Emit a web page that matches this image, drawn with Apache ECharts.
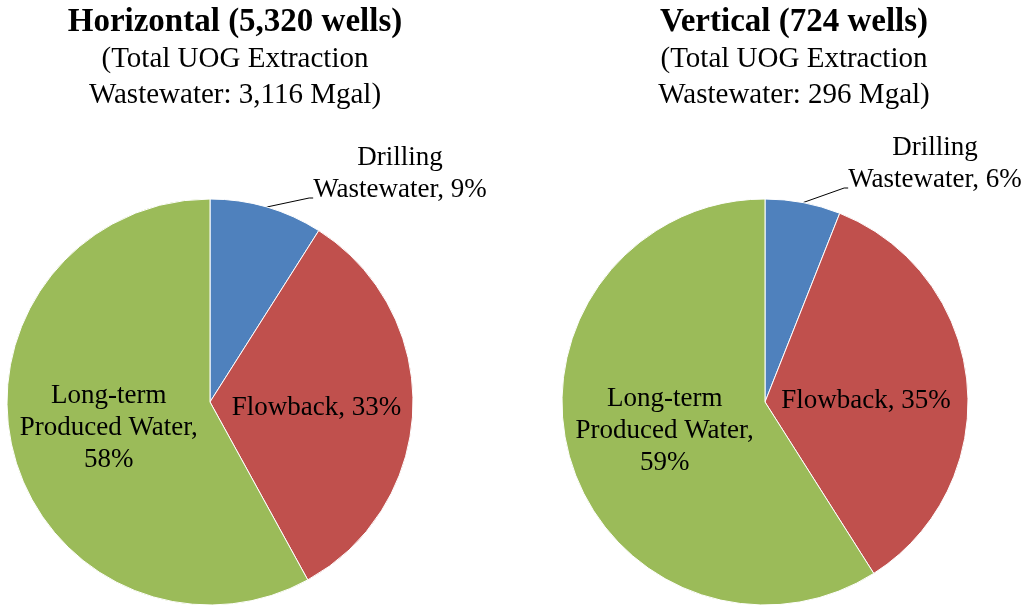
<!DOCTYPE html>
<html>
<head>
<meta charset="utf-8">
<script src="https://cdn.jsdelivr.net/npm/echarts@6/dist/echarts.min.js"></script>
<style>
  html, body { margin: 0; padding: 0; background: #fff; }
  #main { width: 1024px; height: 611px; }
</style>
</head>
<body>
<div id="main"></div>
<script>
// data
var categories = ['Drilling Wastewater', 'Flowback', 'Long-term Produced Water'];
var horizontalShare = [9, 33, 58];
var verticalShare = [6, 35, 59];
var labelTemplates = ['Drilling\nWastewater, {v}%\n{gap| }', 'Flowback, {v}%', 'Long-term\nProduced Water,\n{v}%'];
var sliceColors = ['#4F81BD', '#C0504D', '#9BBB59'];
var titles = ['Horizontal (5,320 wells)', 'Vertical (724 wells)'];
var subtitles = ['(Total UOG Extraction\nWastewater: 3,116 Mgal)', '(Total UOG Extraction\nWastewater: 296 Mgal)'];

var FONT = '"Liberation Serif", "Times New Roman", serif';

function buildData(values, flowOffset){
    return values.map(function(v, i){
        var item = {
            name: categories[i],
            value: v,
            itemStyle: { color: sliceColors[i] }
        };
        if (i == 0) {
            // blank bottom line so the leader meets the label low on its left side
            item.label = {
                position: 'outside',
                rich: { gap: { fontSize: 10, lineHeight: 48 } }
            };
            item.labelLine = { show: true };
        } else {
            item.label = { position: 'inner' };
            if (i == 1) item.label.offset = flowOffset;
            item.labelLine = { show: false };
        }
        return item;
    });
}

function pieSeries(values, cx, drillLabelPos, flowOffset){
    return {
        type: 'pie',
        center: [cx, 402],
        radius: 203,
        startAngle: 90,
        clockwise: true,
        animation: false,
        silent: true,
        itemStyle: { borderColor: '#fff', borderWidth: 1 },
        label: {
            color: '#000',
            fontFamily: FONT,
            fontSize: 27,
            lineHeight: 32,
            align: 'center',
            formatter: function(p){
                return labelTemplates[p.dataIndex].replace('{v}', p.value);
            }
        },
        labelLine: {
            length: 4,
            length2: 4,
            lineStyle: { color: '#000', width: 1 }
        },
        labelLayout: function(p){
            if (p.dataIndex == 0) {
                return { x: drillLabelPos[0], y: drillLabelPos[1], align: 'center', verticalAlign: 'middle' };
            }
            return {};
        },
        data: buildData(values, flowOffset)
    };
}

var chart = echarts.init(document.getElementById('main'), null, { renderer: 'canvas' });

chart.setOption({
    backgroundColor: '#fff',
    title: [
        {
            text: titles[0], subtext: subtitles[0],
            left: 230, top: 1, textAlign: 'center', itemGap: 2,
            textStyle: { fontFamily: FONT, fontSize: 33, fontWeight: 'bold', color: '#000' },
            subtextStyle: { fontFamily: FONT, fontSize: 29, color: '#000', lineHeight: 36 }
        },
        {
            text: titles[1], subtext: subtitles[1],
            left: 789, top: 1, textAlign: 'center', itemGap: 2,
            textStyle: { fontFamily: FONT, fontSize: 33, fontWeight: 'bold', color: '#000' },
            subtextStyle: { fontFamily: FONT, fontSize: 29, color: '#000', lineHeight: 36 }
        }
    ],
    series: [
        pieSeries(horizontalShare, 210, [400, 198], [2, 3]),
        pieSeries(verticalShare, 765, [935, 188], [-3, 9])
    ]
});
</script>
</body>
</html>
